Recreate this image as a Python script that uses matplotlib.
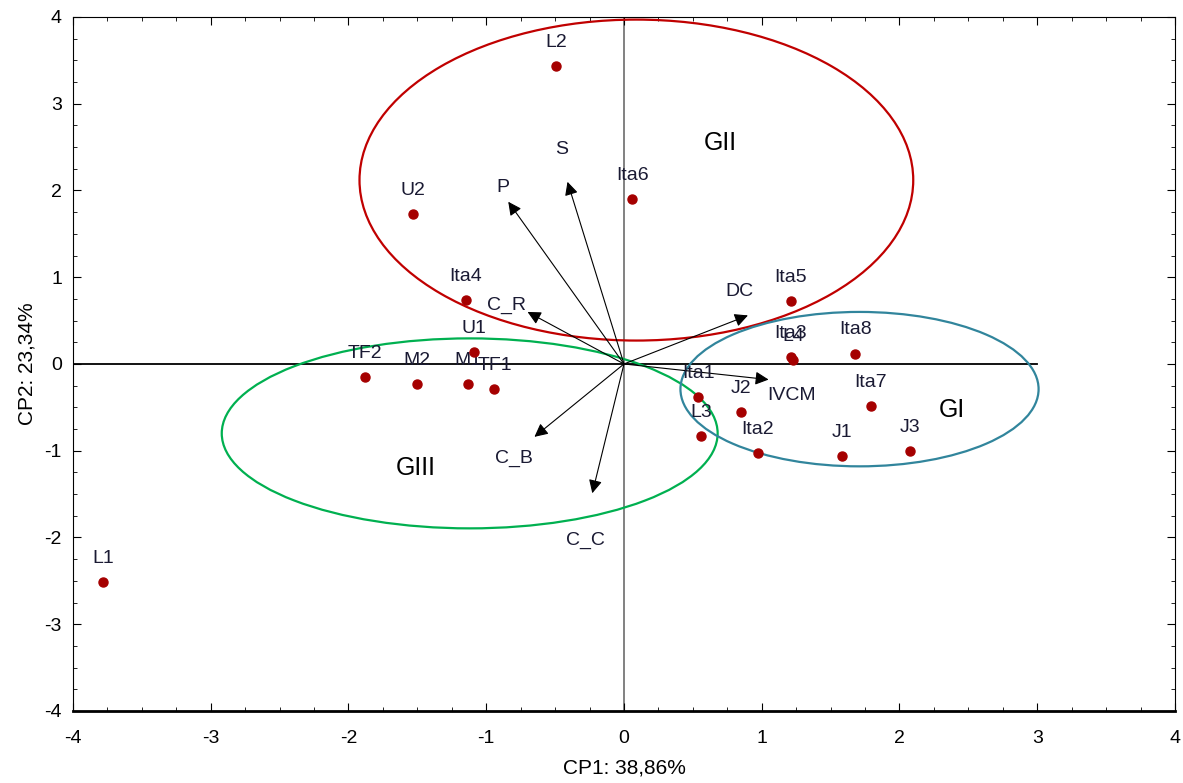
import numpy as np
import matplotlib
matplotlib.use("Agg")
from matplotlib import pyplot as plt
from matplotlib.patches import Ellipse
from matplotlib.ticker import MultipleLocator

# ---------------- data ----------------
obs_names = ["L2", "U2", "Ita6", "Ita4", "U1", "TF2", "M2", "M1", "TF1", "Ita5",
             "Ita3", "L4", "Ita8", "Ita1", "L3", "J2", "Ita2", "J1", "Ita7", "J3", "L1"]
obs_x = [-0.49, -1.53, 0.06, -1.15, -1.09, -1.88, -1.50, -1.13, -0.94, 1.21,
         1.21, 1.23, 1.68, 0.54, 0.56, 0.85, 0.97, 1.58, 1.79, 2.08, -3.78]
obs_y = [3.43, 1.73, 1.90, 0.74, 0.14, -0.15, -0.23, -0.23, -0.29, 0.73,
         0.08, 0.05, 0.12, -0.38, -0.83, -0.55, -1.03, -1.06, -0.48, -1.00, -2.51]

var_names = ["P", "S", "C_R", "DC", "IVCM", "C_B", "C_C"]
var_x = [-0.84, -0.41, -0.70, 0.90, 1.05, -0.65, -0.23]
var_y = [1.87, 2.10, 0.60, 0.56, -0.18, -0.84, -1.49]
var_lab_x = [-0.88, -0.45, -0.85, 0.84, 1.22, -0.80, -0.28]
var_lab_y = [2.03, 2.47, 0.67, 0.84, -0.36, -1.09, -2.03]

group_names = ["GII", "GIII", "GI"]
group_cx = [0.09, -1.12, 1.71]
group_cy = [2.12, -0.80, -0.29]
group_w = [4.02, 3.60, 2.60]
group_h = [3.70, 2.19, 1.78]
group_lab_x = [0.70, -1.51, 2.38]
group_lab_y = [2.55, -1.20, -0.53]
group_colors = ["#c00000", "#00b050", "#31859c"]

plt.rcParams["axes.unicode_minus"] = False
font = ["Liberation Sans", "DejaVu Sans"]
txt_col = "#1a1a33"

# ---------------- plot ----------------
fig = plt.figure(figsize=(11.83, 7.83), dpi=100)
ax = fig.add_axes([0.0617, 0.092, 0.9315, 0.8863])
ax.set_xlim(-4, 4)
ax.set_ylim(-4, 4)

# reference axes
ax.plot([-4, 3], [0, 0], color="black", lw=1.3, zorder=1)
ax.axvline(0, color="#777777", lw=1.3, zorder=1)

# group ellipses
for cx, cy, w, h, c in zip(group_cx, group_cy, group_w, group_h, group_colors):
    ax.add_patch(Ellipse((cx, cy), w, h, fill=False, edgecolor=c, lw=1.6, zorder=2))
for name, gx, gy in zip(group_names, group_lab_x, group_lab_y):
    ax.text(gx, gy, name, fontsize=18, family=font,
            ha="center", va="center", color="black")

# variable arrows
for name, vx, vy, lx, ly in zip(var_names, var_x, var_y, var_lab_x, var_lab_y):
    ax.annotate("", xy=(vx, vy), xytext=(0, 0),
                arrowprops=dict(arrowstyle="-|>", color="black", lw=0.8,
                                mutation_scale=20, shrinkA=0, shrinkB=0), zorder=3)
    ax.text(lx, ly, name, fontsize=14, family=font, ha="center", va="center", color=txt_col)

# observations
ax.plot(obs_x, obs_y, "o", color="#a50000", ms=6.5, zorder=4, ls="none")
for name, ox, oy in zip(obs_names, obs_x, obs_y):
    ax.annotate(name, (ox, oy), xytext=(0, 17), textcoords="offset points",
                fontsize=14, family=font, ha="center", va="center", color=txt_col)

# axes cosmetics
ax.xaxis.set_major_locator(MultipleLocator(1))
ax.yaxis.set_major_locator(MultipleLocator(1))
ax.xaxis.set_minor_locator(MultipleLocator(0.25))
ax.yaxis.set_minor_locator(MultipleLocator(0.25))
ax.tick_params(which="both", direction="in", top=True, right=True, labelsize=14)
ax.tick_params(which="major", length=6)
ax.tick_params(which="minor", length=3)
for lab in ax.get_xticklabels() + ax.get_yticklabels():
    lab.set_family(font)
ax.tick_params(axis="x", pad=14)
ax.tick_params(axis="y", pad=8)
ax.spines["bottom"].set_linewidth(2)
ax.set_xlabel("CP1: 38,86%", fontsize=15, family=font, labelpad=8)
ax.set_ylabel("CP2: 23,34%", fontsize=15, family=font, labelpad=6)

fig.savefig("out.png", dpi=100)
